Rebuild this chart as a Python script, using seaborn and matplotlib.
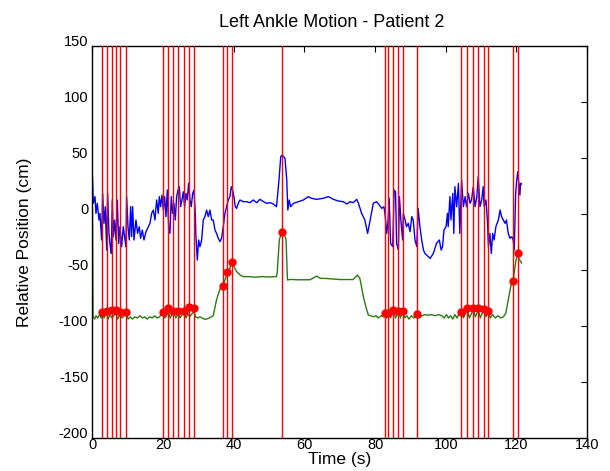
import matplotlib
matplotlib.use("Agg")
import matplotlib.pyplot as plt
import seaborn as sns
import pandas as pd

# ---------------- data ----------------
event_t = [2.77, 4.02, 5.44, 6.65, 7.87, 9.48,
           20.0, 21.4, 22.9, 24.3, 25.9, 27.3, 28.7,
           36.9, 38.2, 39.4,
           53.7,
           82.7, 83.7, 85.2, 86.6, 87.8, 91.9,
           104.4, 106.1, 107.8, 109.2, 110.8, 112.0,
           119.0, 120.4]
event_y = [-87.4, -86.5, -86.0, -86.0, -87.4, -87.4,
           -87.4, -84.0, -86.5, -86.5, -86.5, -83.5, -84.0,
           -64.5, -52.0, -42.9,
           -15.8,
           -88.3, -88.3, -85.9, -86.8, -86.8, -89.5,
           -87.4, -83.8, -84.4, -84.4, -85.3, -86.5,
           -59.7, -35.1]

blue_t = [0.0, 0.24, 0.71, 0.99, 1.37, 1.84, 2.12, 2.59, 2.88, 3.25, 3.63, 4.01, 4.29, 4.67,
          5.05, 5.33, 5.61, 5.90, 6.27, 6.65, 7.03, 7.41, 7.78, 8.25, 8.73, 9.20, 9.48, 9.67,
          10.05, 10.42, 10.80, 11.08, 11.37, 11.75, 12.31, 12.78, 13.25, 13.63, 14.10, 14.58,
          15.14, 15.80, 16.27, 16.75, 17.22, 17.69, 18.16, 18.63, 18.92, 19.29, 19.67, 20.05,
          20.42, 20.80, 21.18, 21.56, 21.93, 22.31, 22.69, 23.07, 23.44, 23.82, 24.20, 24.58,
          24.95, 25.33, 25.71, 26.09, 26.46, 26.84, 27.22, 27.59, 27.97, 28.35, 28.73, 29.10,
          29.29, 29.67, 30.05, 30.42, 30.90, 31.37, 31.84, 32.31, 32.78, 33.26, 33.73, 34.20,
          34.67, 35.14, 35.61, 36.08, 36.56, 37.03, 37.50, 37.97, 38.44, 38.92, 39.29, 39.67,
          40.05, 40.42, 40.80, 41.27, 41.75, 42.69, 43.63, 44.58,
          45.5, 46.5, 47.4, 48.4, 49.3, 50.3, 51.2, 52.1, 52.8, 53.3, 53.7, 54.5, 55.0, 55.3,
          55.7, 56.1, 56.9, 58.3, 59.7, 61.1, 62.0, 63.5, 65.3, 66.8, 68.2, 69.6, 71.0, 72.0,
          72.9, 73.8, 74.8, 75.3, 76.2, 77.1, 77.9, 78.6, 79.5, 80.4, 81.2, 81.9, 82.5,
          82.8, 83.3, 83.7, 84.0, 84.4, 85.0, 85.4, 85.8, 86.1, 86.6, 86.9, 87.3, 87.8, 88.0,
          88.5, 88.9, 89.4, 89.9, 90.4, 90.8, 91.3, 91.8, 92.2, 92.7, 93.2, 93.7, 94.1, 95.1,
          95.6, 96.5, 97.4, 98.2, 98.7, 99.1, 99.5, 100.1, 100.5, 100.7, 101.2, 101.5, 102.0,
          102.3, 102.6, 103.1, 103.6, 104.0, 104.5, 105.0, 105.5, 105.9, 106.4, 106.9, 107.3,
          107.8, 108.3, 108.8, 109.2, 109.7, 110.2, 110.6, 110.9, 111.4, 111.8, 112.1, 112.5,
          112.9, 113.3, 113.7, 114.2, 114.9, 115.4, 115.8, 116.3, 116.8, 117.2, 117.7, 118.2,
          118.7, 119.1, 119.4, 119.8, 120.1, 120.4, 120.8, 121.0, 121.2, 121.5]
blue_y = [33.5, 9.6, 15.6, 0.6, 9.6, -5.3, 0.6, -23.2, 18.5, -8.3, 6.6, -32.2, 18.5, -17.3,
          -29.2, -35.2, 12.6, -20.2, -5.3, -23.2, 12.6, -26.2, -11.3, -29.2, -11.3, -23.2, -29.2, 15.6,
          -11.3, -23.2, 6.6, -20.2, 6.6, -23.2, -5.3, -17.3, -11.3, -21.7, -14.3, -23.2,
          -15.8, -11.3, -8.3, 0.6, 3.6, -5.3, 12.6, 0.6, 15.6, 6.6, 17.0, 3.6,
          15.6, -2.3, 21.5, -11.3, -17.3, 15.6, 0.6, 9.6, -5.3, 15.6, 21.5, 24.5,
          6.6, 12.6, 20.0, 6.6, 18.5, 12.6, 27.5, 12.6, 6.6, 18.5, 21.5, 0.6,
          -20.2, -41.2, -23.2, -29.2, -23.2, -5.3, -2.3, 3.6, -2.3, 3.6, -5.3, -5.3,
          -14.3, -17.3, -21.7, -24.7, -21.7, -11.3, 0.6, 6.6, 12.6, 15.6, 24.5, 21.5,
          15.6, 6.6, 5.1, 9.6, 12.6, 11.1, 11.1, 10.2,
          12.6, 10.2, 13.2, 11.1, 9.6, 10.2, 9.0, 6.6, 30.5, 51.4, 52.9, 49.9, 30.5, 3.6,
          12.6, 6.6, 9.6, 11.1, 12.6, 15.6, 14.1, 13.2, 14.1, 15.6, 13.2, 11.7, 11.1, 9.0,
          11.1, 10.2, 13.2, 9.6, 0.6, -5.3, -17.3, -5.3, 9.6, 11.1, 8.1, 5.1, 6.6,
          0.6, -17.3, -5.3, 14.1, -26.2, -29.2, 21.5, 20.0, -26.2, -32.2, 15.6, -5.3, -23.2, 0.6,
          -5.3, -11.3, -8.3, -15.8, -2.3, -5.3, -23.2, -29.2, 5.1, -11.3, -23.2, -32.2, -35.2, -38.2,
          -39.7, -35.2, -26.2, -23.2, -32.2, -29.2, -14.3, -11.3, 0.6, -11.3, 15.6, -5.3, 18.5,
          -17.3, 24.5, 6.6, 27.5, -17.3, 30.5, 6.6, 15.6, 6.6, 18.5, 9.6, 12.6,
          24.5, 6.6, 15.6, 33.5, 6.6, 12.6, 24.5, 6.6, 12.6, -5.3, -29.2, -17.3,
          -35.2, -17.3, -23.2, -11.3, -5.3, 3.6, -2.3, -5.3, -8.3, -5.3, -17.3, -21.7,
          -20.2, -23.2, -32.2, 18.5, 30.5, 37.9, 24.5, 17.0, 27.5, 26.9]

green_t = [0.0, 0.15, 0.6, 1.0, 1.5, 2.0, 2.5, 2.8, 3.3, 3.9, 4.4, 5.0, 5.5, 6.0, 6.6, 7.1,
           7.8, 8.4, 9.0, 9.5, 10.1, 10.7, 11.3, 12.0, 12.7, 13.4, 14.1, 14.8, 15.5, 16.2,
           16.9, 17.6, 18.3, 19.0, 19.6, 20.0, 20.5, 21.0, 21.5, 22.0, 22.5, 23.0, 23.6, 24.2,
           24.8, 25.4, 25.9, 26.5, 27.0, 27.5, 28.0, 28.7, 29.2, 29.8, 30.4, 31.0, 31.6, 32.3,
           33.0, 33.7, 34.2, 35.1, 36.1, 36.8, 37.5, 38.2, 38.9, 39.4, 39.9, 40.8, 41.8, 42.7,
           44.6, 46.0, 48.0, 50.0, 52.1, 52.3, 52.9, 53.6, 54.2, 54.8, 55.2, 56.0, 58.0, 61.6,
           63.5, 64.5, 66.0, 70.0, 73.8, 75.0, 75.7, 76.7, 77.4, 78.1, 78.8, 79.5, 80.2, 81.0,
           81.8, 82.5, 82.8, 83.3, 83.8, 84.4, 85.2, 85.8, 86.6, 87.2, 87.8, 88.4, 89.0, 89.6,
           90.3, 91.0, 91.6, 91.9, 92.5, 93.3, 94.1, 95.0, 96.0, 97.0, 98.0, 98.9, 99.6, 100.2,
           100.8, 101.4, 102.0, 102.6, 103.2, 103.8, 104.4, 105.0, 105.6, 106.1, 106.7, 107.3,
           107.8, 108.4, 109.2, 109.8, 110.4, 110.8, 111.4, 112.0, 112.6, 113.3, 114.0, 114.8,
           115.6, 116.3, 117.0, 118.0, 118.7, 119.1, 119.9, 120.4, 120.8, 121.2, 121.5]
green_y = [5.0, -92, -94, -91, -93, -90, -93, -89, -93, -89, -94, -90, -93, -91, -89, -94,
           -90, -93, -91, -89, -94, -92, -94, -92, -93, -91, -93, -92, -94, -92,
           -93, -91, -93, -92, -89, -88, -93, -91, -87, -93, -90, -88, -93, -89,
           -93, -90, -88, -93, -89, -92, -90, -87, -92, -93, -92, -93, -94, -94,
           -93, -92, -90.8, -77, -67, -65, -59, -53, -48.6, -42.6, -46, -51.5, -54.6, -56,
           -56, -56.5, -56, -56.3, -56, -52, -23, -15.7, -17, -23, -59, -58.5, -58.8, -58.8,
           -55.5, -57.5, -57.6, -58.6, -58.6, -54.6, -57.6, -74, -83, -90.4, -91, -92, -91, -93,
           -91, -92, -88, -93, -88, -93, -86, -93, -87, -93, -87, -93, -91, -94,
           -91, -93, -91, -89, -93, -91, -90, -90.5, -90, -91, -90, -91, -93, -90,
           -93, -91, -94, -90, -93, -89, -88, -93, -89, -85, -93, -89,
           -85, -92, -86, -93, -88, -86, -92, -87, -93, -90, -93, -91,
           -93, -92, -89, -71.6, -60.5, -59, -41.2, -35.2, -41, -42, -44]

x_ticks = [0, 20, 40, 60, 80, 100, 120, 140]
y_ticks = [-200, -150, -100, -50, 0, 50, 100, 150]

blue_df = pd.DataFrame({"t": blue_t, "pos": blue_y})
green_df = pd.DataFrame({"t": green_t, "pos": green_y})
event_df = pd.DataFrame({"t": event_t, "pos": event_y})

# ---------------- style ----------------
sns.set_theme(style="white")
plt.rcParams["font.family"] = ["Liberation Sans", "DejaVu Sans"]

fig = plt.figure(figsize=(6.1, 4.71), dpi=100)
ax = fig.add_axes([0.1516, 0.0711, 0.8107, 0.8302])

sns.lineplot(data=blue_df, x="t", y="pos", color="#0000ff", linewidth=1.0,
             estimator=None, sort=False, ax=ax, zorder=2)
sns.lineplot(data=green_df, x="t", y="pos", color="#2a7a12", linewidth=1.0,
             estimator=None, sort=False, ax=ax, zorder=2)
for t in event_df["t"]:
    ax.axvline(t, color="#ff0000", linewidth=1.0, zorder=3)
sns.scatterplot(data=event_df, x="t", y="pos", color="#ff0000", s=36,
                edgecolor="#ff0000", linewidth=0, ax=ax, zorder=4)

ax.set_xlim(0, 140)
ax.set_ylim(-200, 150)
ax.set_xticks(x_ticks)
ax.set_yticks(y_ticks)
ax.set_xticklabels([str(v) for v in x_ticks])
ax.set_yticklabels([str(v) for v in y_ticks])
for lab in ax.get_yticklabels():
    lab.set_verticalalignment("baseline")

ax.tick_params(axis="both", direction="in", length=4, width=0.8, colors="black",
               labelsize=10.5, top=True, right=True, pad=3)
ax.tick_params(axis="x", pad=0)
for sp in ax.spines.values():
    sp.set_color("black")
    sp.set_linewidth(1.0)
    sp.set_visible(True)

ax.set_xlabel("Time (s)", fontsize=12.5, color="black", labelpad=0)
ax.set_ylabel("Relative Position (cm)", fontsize=12.5, color="black", labelpad=19)
ax.set_title("Left Ankle Motion - Patient 2", fontsize=13, color="black", pad=14, x=0.483)
ax.grid(False)
ax.set_facecolor("white")

fig.savefig("out.png", dpi=100, facecolor="white")
